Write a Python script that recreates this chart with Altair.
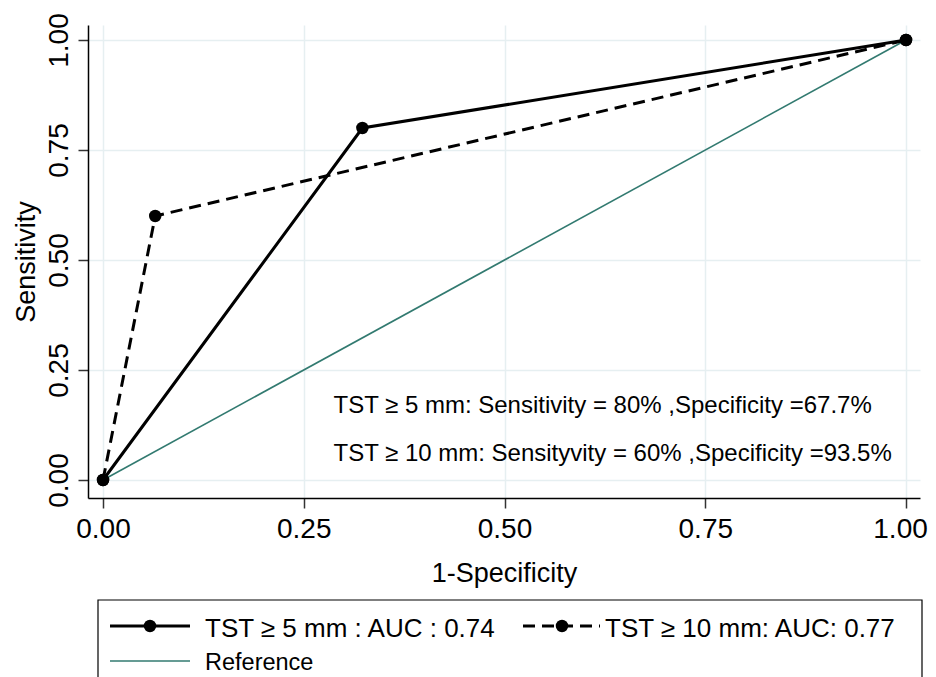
import altair as alt
import pandas as pd

# ROC points (1-Specificity, Sensitivity)
fpr_5 = [0.0, 0.323, 1.0]
sens_5 = [0.0, 0.800, 1.0]
fpr_10 = [0.0, 0.065, 1.0]
sens_10 = [0.0, 0.600, 1.0]
ref_x = [0.0, 1.0]
ref_y = [0.0, 1.0]
tick_values = [0.0, 0.25, 0.5, 0.75, 1.0]

legend_labels = ["TST ≥ 5 mm : AUC : 0.74", "TST ≥ 10 mm: AUC: 0.77", "Reference"]
notes = ["TST ≥ 5 mm: Sensitivity = 80% ,Specificity =67.7%",
         "TST ≥ 10 mm: Sensityvity = 60% ,Specificity =93.5%"]
note_x = [0.287, 0.287]
note_y = [0.153, 0.044]

FONT = "Liberation Sans, Arial, Helvetica, sans-serif"
TEAL = "#327a70"
GRID = "#e6eff1"

W, H = 832, 473

xs = alt.Scale(domain=[-0.0187, 1.0174], nice=False, zero=False)
ys = alt.Scale(domain=[-0.0409, 1.0341], nice=False, zero=False)

x_axis = alt.Axis(values=tick_values, format=".2f", title="1-Specificity",
                  labelFontSize=28, labelPadding=29, labelBaseline="alphabetic",
                  labelFlush=False, labelOverlap=False,
                  labelOffset={"condition": {"test": "datum.value >= 1", "value": -6}, "value": 0},
                  tickSize=10, tickColor="#333333", tickWidth=1.5,
                  domainColor="black", domainWidth=1.5,
                  grid=True, gridColor=GRID, gridWidth=1.5,
                  titleFontSize=27, titleFontWeight="normal", titleX=W / 2, titleY=83,
                  titleBaseline="alphabetic", titleAlign="center",
                  labelColor="black", titleColor="black")
y_axis = alt.Axis(values=tick_values, format=".2f", title="Sensitivity",
                  labelFontSize=28, labelAngle=270, labelAlign="center",
                  labelBaseline="alphabetic", labelPadding=11,
                  labelFlush=False, labelOverlap=False,
                  tickSize=10, tickColor="#333333", tickWidth=1.5,
                  domainColor="black", domainWidth=1.5,
                  grid=True, gridColor=GRID, gridWidth=1.5,
                  titleFontSize=27, titleFontWeight="normal", titleAngle=270,
                  titleX=-54, titleY=H / 2, titleBaseline="alphabetic", titleAlign="center",
                  labelColor="black", titleColor="black")

def enc(chart):
    return chart.encode(
        x=alt.X("x:Q", scale=xs, axis=x_axis),
        y=alt.Y("y:Q", scale=ys, axis=y_axis),
    )

df_ref = pd.DataFrame({"x": ref_x, "y": ref_y})
df5 = pd.DataFrame({"x": fpr_5, "y": sens_5})
df10 = pd.DataFrame({"x": fpr_10, "y": sens_10})

LW = 3
DASH = [12, 7]
MS = 155

ref_line = enc(alt.Chart(df_ref).mark_line(color=TEAL, strokeWidth=1.6))
line10 = enc(alt.Chart(df10).mark_line(color="black", strokeWidth=LW, strokeDash=DASH))
line5 = enc(alt.Chart(df5).mark_line(color="black", strokeWidth=LW))
pts10 = enc(alt.Chart(df10).mark_circle(color="black", size=MS, opacity=1))
pts5 = enc(alt.Chart(df5).mark_circle(color="black", size=MS, opacity=1))

df_notes = pd.DataFrame({"x": note_x, "y": note_y, "t": notes})
notes_layer = alt.Chart(df_notes).mark_text(
    align="left", baseline="alphabetic", fontSize=24, color="black", font=FONT
).encode(x=alt.X("x:Q", scale=xs), y=alt.Y("y:Q", scale=ys), text="t:N")

# Legend (drawn below the plot area)
one = pd.DataFrame({"k": [0]})
box = alt.Chart(one).mark_rect(fill="white", fillOpacity=0, stroke="black", strokeWidth=1.2).encode(
    x=alt.value(10), x2=alt.value(834), y=alt.value(575), y2=alt.value(720))

sym1 = alt.Chart(one).mark_rule(color="black", strokeWidth=LW).encode(
    x=alt.value(22), x2=alt.value(102), y=alt.value(601))
dot1 = alt.Chart(one).mark_circle(color="black", size=MS, opacity=1).encode(
    x=alt.value(62), y=alt.value(601))
sym2 = alt.Chart(one).mark_rule(color="black", strokeWidth=LW, strokeDash=DASH).encode(
    x=alt.value(435), x2=alt.value(512), y=alt.value(601))
dot2 = alt.Chart(one).mark_circle(color="black", size=MS, opacity=1).encode(
    x=alt.value(474), y=alt.value(601))
sym3 = alt.Chart(one).mark_rule(color=TEAL, strokeWidth=1.6).encode(
    x=alt.value(22), x2=alt.value(102), y=alt.value(636))

df_leg = pd.DataFrame({"t": legend_labels})
leg1 = alt.Chart(df_leg.iloc[[0]]).mark_text(align="left", baseline="alphabetic", fontSize=26,
                                             color="black", font=FONT).encode(
    x=alt.value(117), y=alt.value(612), text="t:N")
leg2 = alt.Chart(df_leg.iloc[[1]]).mark_text(align="left", baseline="alphabetic", fontSize=26,
                                             color="black", font=FONT).encode(
    x=alt.value(517), y=alt.value(612), text="t:N")
leg3 = alt.Chart(df_leg.iloc[[2]]).mark_text(align="left", baseline="alphabetic", fontSize=23.5,
                                             color="black", font=FONT).encode(
    x=alt.value(117), y=alt.value(645), text="t:N")

chart = alt.layer(
    ref_line, line10, line5, pts10, pts5, notes_layer,
    box, sym1, dot1, sym2, dot2, sym3, leg1, leg2, leg3,
).properties(
    width=W, height=H,
    autosize=alt.AutoSizeParams(type="none"),
    padding={"left": 80, "top": 17, "right": 8, "bottom": 190},
).configure(font=FONT).configure_view(stroke="transparent")

chart.save("out.html", embed_options={"renderer": "svg", "actions": False})
